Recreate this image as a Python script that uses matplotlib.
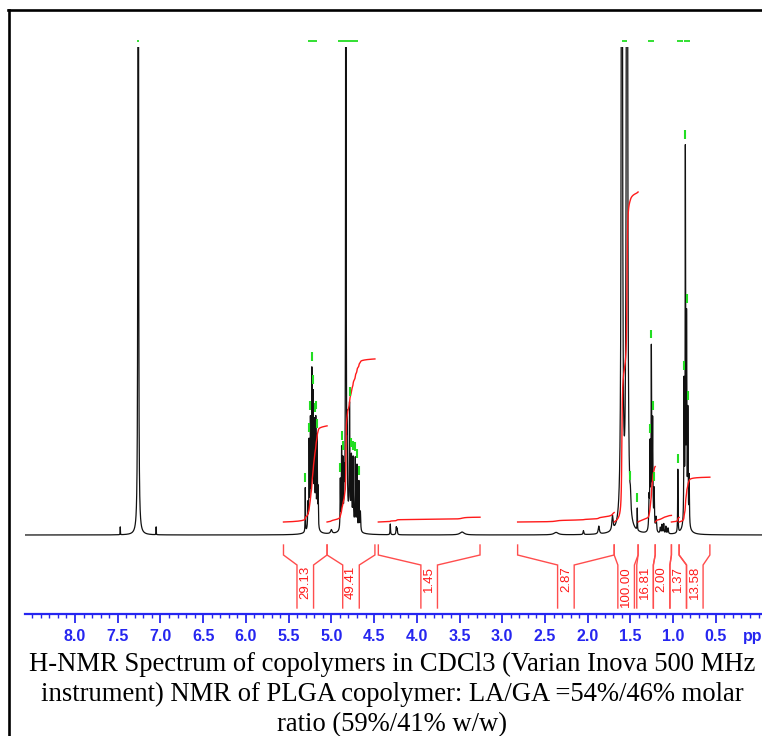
import numpy as np
import matplotlib
matplotlib.use("Agg")
import matplotlib.pyplot as plt
from matplotlib.lines import Line2D

# ---------------- data ----------------
# model peaks of the 1H spectrum (ppm, relative height, half width)
peak_ppm = [7.26, 7.47, 7.05,
            5.305, 5.275, 5.26, 5.245, 5.228, 5.212, 5.197, 5.182, 5.167, 5.155, 5.22,
            5.00,
            4.895, 4.88, 4.865, 4.85, 4.83, 4.815, 4.787, 4.765, 4.745, 4.72, 4.70, 4.677, 4.66, 4.78,
            4.31, 4.24, 4.23, 3.47, 2.37, 2.05, 1.87, 1.71,
            1.60, 1.54, 1.50, 1.42,
            1.282, 1.27, 1.255, 1.24, 1.222, 1.20,
            1.15, 1.13, 1.11, 1.085, 1.06,
            0.945, 0.872, 0.857, 0.843, 0.828, 0.812, 0.85]
peak_height = [3.0, 0.016, 0.016,
               0.09, 0.05, 0.17, 0.20, 0.28, 0.23, 0.19, 0.21, 0.18, 0.08, 0.05,
               0.008,
               0.10, 0.16, 0.13, 0.09, 2.5, 0.16, 0.22, 0.12, 0.13, 0.14, 0.13, 0.10, 0.04, 0.04,
               0.022, 0.015, 0.012, 0.006, 0.005, 0.008, 0.016, 0.03,
               3.5, 4.0, 0.03, 0.045,
               0.06, 0.17, 0.36, 0.22, 0.08, 0.03,
               0.012, 0.018, 0.02, 0.015, 0.012,
               0.13, 0.28, 0.74, 0.40, 0.22, 0.10, 0.03]
peak_width = [0.003, 0.0015, 0.0015,
              0.002, 0.003, 0.003, 0.003, 0.003, 0.003, 0.003, 0.003, 0.003, 0.003, 0.025,
              0.01,
              0.003, 0.003, 0.003, 0.003, 0.0025, 0.003, 0.003, 0.003, 0.003, 0.003, 0.003, 0.003, 0.004, 0.04,
              0.003, 0.004, 0.004, 0.03, 0.03, 0.005, 0.008, 0.008,
              0.005, 0.005, 0.006, 0.002,
              0.004, 0.004, 0.003, 0.004, 0.004, 0.006,
              0.005, 0.004, 0.004, 0.004, 0.005,
              0.0025, 0.003, 0.0025, 0.003, 0.003, 0.003, 0.03]

# integration regions (ppm) and integral values
integral_start = [5.56, 5.05, 4.45, 2.82, 1.69, 1.41, 1.21, 1.02, 0.93]
integral_end = [5.05, 4.49, 3.26, 1.69, 1.41, 1.21, 1.02, 0.93, 0.57]
integral_values = [29.13, 49.41, 1.45, 2.87, 100.00, 16.81, 2.00, 1.37, 13.58]

# peak-pick markers (ppm)
pick_ppm = [5.305, 5.26, 5.245, 5.228, 5.212, 5.197, 5.182, 5.167,
            4.895, 4.88, 4.865, 4.787, 4.765, 4.745, 4.72, 4.70, 4.677,
            1.50, 1.42, 1.27, 1.255, 1.24, 1.222,
            0.945, 0.872, 0.857, 0.843, 0.828]
# off-scale peak label marks (ppm ranges)
offscale_from = [7.27, 5.27, 4.92, 1.60, 1.29, 0.95, 0.87]
offscale_to = [7.25, 5.165, 4.69, 1.54, 1.22, 0.89, 0.80]

tick_major = [8.0, 7.5, 7.0, 6.5, 6.0, 5.5, 5.0, 4.5, 4.0, 3.5, 3.0, 2.5, 2.0, 1.5, 1.0, 0.5]
tick_labels = ["8.0", "7.5", "7.0", "6.5", "6.0", "5.5", "5.0", "4.5", "4.0",
               "3.5", "3.0", "2.5", "2.0", "1.5", "1.0", "0.5"]

caption_lines = ["H-NMR Spectrum of copolymers in CDCl3 (Varian Inova 500 MHz",
                 "instrument) NMR of PLGA copolymer: LA/GA =54%/46% molar",
                 "ratio (59%/41% w/w)"]

# ---------------- figure ----------------
W, H = 762, 736
fig = plt.figure(figsize=(W / 100, H / 100), dpi=100)
fig.patch.set_facecolor("white")

def fx(px):
    return px / W

def fy(py):
    return (H - py) / H

base_px = 535.0
scale_px = 488.0  # px per intensity unit

def dy(py):
    return (base_px - py) / scale_px

ax = fig.add_axes([fx(25), fy(614), fx(762) - fx(25), fy(47) - fy(614)])
ax.set_xlim(8.585, -0.04)
ax.set_ylim(dy(614), 1.0)

x = np.linspace(8.6, -0.1, 40000)
def model(xx):
    s = np.zeros_like(np.asarray(xx, dtype=float))
    for p, h, g in zip(peak_ppm, peak_height, peak_width):
        s = s + h * g * g / ((xx - p) ** 2 + g * g)
    return s

spec = model(x)
ax.plot(x, spec, color="#111111", lw=0.9, zorder=3)

# integrals
red = "#ff1a1a"
k_int = 3.3 / scale_px
y_int0 = dy(522)
for a, b, v in zip(integral_start, integral_end, integral_values):
    m = (x <= a) & (x >= b)
    xs = x[m]
    cs = np.cumsum(spec[m])
    cs = cs / cs[-1] * v * k_int
    ax.plot(xs, y_int0 + cs, color=red, lw=1.0, zorder=4)

# integral brackets and labels
def layout_centers(desired, spacing):
    clusters = [[i] for i in range(len(desired))]
    def pos(cl):
        mean = np.mean([desired[i] for i in cl])
        n = len(cl)
        return [mean + spacing * ((n - 1) / 2 - j) for j in range(n)]
    changed = True
    while changed:
        changed = False
        for c in range(len(clusters) - 1):
            pa = pos(clusters[c])
            pb = pos(clusters[c + 1])
            if pa[-1] - pb[0] < spacing - 1e-9:
                clusters[c] = clusters[c] + clusters[c + 1]
                del clusters[c + 1]
                changed = True
                break
    out = []
    for cl in clusters:
        out += pos(cl)
    return out

half = 0.097
centers = layout_centers([(a + b) / 2 for a, b in zip(integral_start, integral_end)], 2 * half)
br_col = "#ff4d4d"
y1, y2, y3, y4 = dy(545), dy(555), dy(565), dy(608)
for a, b, v, c in zip(integral_start, integral_end, integral_values, centers):
    for edge, inner in ((a, c + half), (b, c - half)):
        ax.plot([edge, edge, inner, inner], [y1, y2, y3, y4], color=br_col, lw=1.0,
                zorder=2, solid_joinstyle="miter")
    ax.text(c, dy(566), f"{v:.2f}", rotation=90, ha="center", va="top",
            color=red, fontsize=9.5, family="Liberation Sans", zorder=5)

# peak-pick markers
green = "#22dd22"
for p in pick_ppm:
    yv = float(model(np.array([p]))[0])
    if yv < 0.97:
        ax.plot([p, p], [yv + 0.012, yv + 0.030], color=green, lw=1.5, zorder=5,
                clip_on=False, solid_capstyle="butt")
top_mark = dy(40.7)
for a, b in zip(offscale_from, offscale_to):
    ax.plot([a, b], [top_mark, top_mark], color=green, lw=1.3, zorder=5, clip_on=False,
            solid_capstyle="butt")

# axis styling
axis_blue = "#2626f0"
for s in ("left", "right", "top"):
    ax.spines[s].set_visible(False)
ax.spines["bottom"].set_color(axis_blue)
ax.spines["bottom"].set_linewidth(1.6)
ax.set_yticks([])
ax.set_xticks(tick_major)
ax.set_xticklabels(tick_labels)
ax.set_xticks(np.round(np.arange(0.0, 8.6, 0.1), 2), minor=True)
ax.tick_params(axis="x", which="major", direction="out", length=6.5, width=1.3,
               color=axis_blue, pad=4.0, labelsize=11.5, labelcolor=axis_blue)
ax.tick_params(axis="x", which="minor", direction="out", length=3.2, width=1.0,
               color=axis_blue)
for lab in ax.get_xticklabels():
    lab.set_fontweight("bold")
    lab.set_family("Liberation Sans")
fig.text(fx(743), fy(637), "ppm", ha="left", va="center", color=axis_blue,
         fontsize=11.5, fontweight="bold", family="Liberation Sans")

# frame
fig.add_artist(Line2D([fx(9), fx(9)], [fy(10), fy(740)], transform=fig.transFigure,
                      color="black", lw=1.9))
fig.add_artist(Line2D([fx(8), fx(770)], [fy(10), fy(10)], transform=fig.transFigure,
                      color="black", lw=1.9))

# caption
for i, line in enumerate(caption_lines):
    fig.text(fx(392), fy(671 + 30 * i), line, ha="center", va="baseline",
             fontsize=19.2, family="Liberation Serif", color="black")

fig.savefig("out.png", dpi=100)
